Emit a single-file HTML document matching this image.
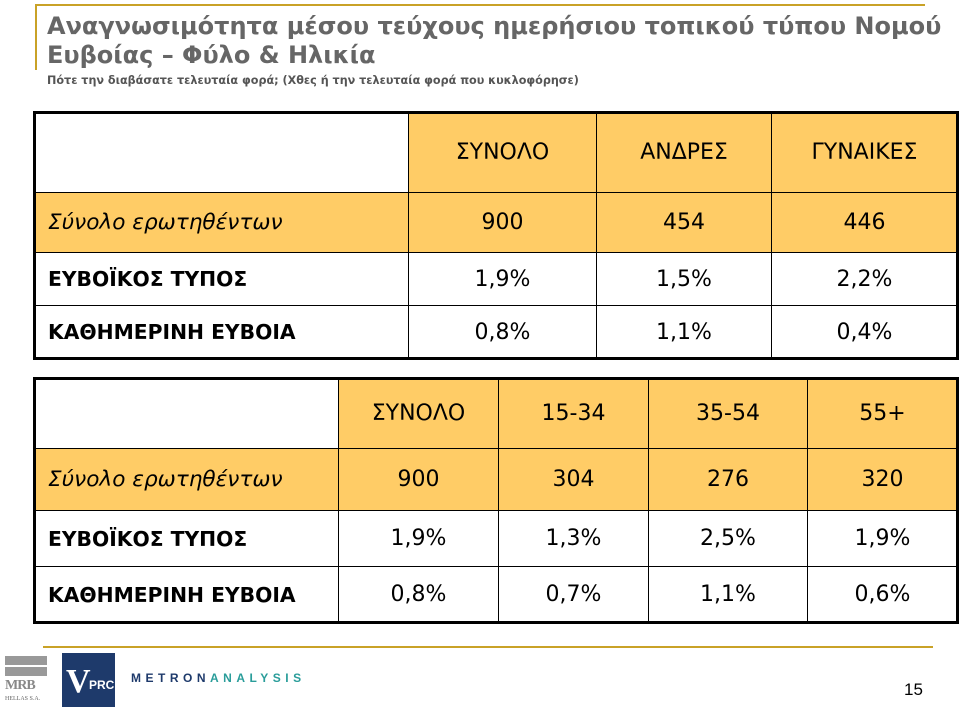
<!DOCTYPE html>
<html><head><meta charset="utf-8"><style>
body{margin:0;width:960px;height:707px;background:#fff;position:relative;overflow:hidden;font-family:"DejaVu Sans","Liberation Sans",sans-serif}
.a{position:absolute}
.title{left:47px;top:12px;color:#666;font-weight:bold;font-size:24px;line-height:29px;white-space:nowrap}
.sub{left:47px;top:74px;color:#555;font-weight:bold;font-size:11.2px;white-space:nowrap}
.c{position:absolute;box-sizing:border-box;border:1px solid #000;display:flex;align-items:center;justify-content:center;font-size:22px;color:#000;white-space:nowrap}
.g{background:#FFCC66}
.l{justify-content:flex-start;padding-left:13px}
.b{font-weight:bold;font-size:20.3px}
.i{font-style:italic;font-size:21.6px}
.frame{position:absolute;border:3px solid #000;box-sizing:border-box;pointer-events:none}
</style></head><body>
<div class="a" style="left:35px;top:4px;width:890px;height:2px;background:#C9A227"></div>
<div class="a" style="left:35px;top:4px;width:2px;height:66px;background:#C9A227"></div>
<div class="a title">Αναγνωσιμότητα μέσου τεύχους ημερήσιου τοπικού τύπου Νομού<br>Ευβοίας – Φύλο &amp; Ηλικία</div>
<div class="a sub">Πότε την διαβάσατε τελευταία φορά; (Χθες ή την τελευταία φορά που κυκλοφόρησε)</div>
<div id="t1"></div>
<div id="t2"></div>
<div class="a" style="left:43px;top:646px;width:890px;height:2px;background:#C9A227"></div>
<div class="a" style="left:5px;top:656px;width:42px;height:50px">
<div class="a" style="left:0;top:0;width:42px;height:9px;background:#999"></div>
<div class="a" style="left:0;top:11px;width:42px;height:9px;background:#999"></div>
<div class="a" style="left:0;top:22px;font:bold 14px 'Liberation Serif',serif;color:#888;letter-spacing:-1px">MRB</div>
<div class="a" style="left:0;top:40px;font:6px 'Liberation Serif',serif;color:#666">HELLAS S.A.</div></div>
<div class="a" style="left:62px;top:653px;width:53px;height:54px;background:#1E3A6B;color:#fff">
<span class="a" style="left:4px;top:10px;font:bold 34px 'Liberation Serif',serif">V</span><span class="a" style="left:27px;top:25px;font:bold 12px 'Liberation Sans',sans-serif">PRC</span></div>
<div class="a" style="left:131px;top:671px;font:bold 12px 'Liberation Sans',sans-serif;letter-spacing:4.5px;color:#1E3A6B">METRON<span style="color:#2A9D9A">ANALYSIS</span></div>
<div class="a" style="left:904px;top:680px;font:17px 'Liberation Sans',sans-serif">15</div>
<script>
const t1Cols=["","ΣΥΝΟΛΟ","ΑΝΔΡΕΣ","ΓΥΝΑΙΚΕΣ"];
const t1Base=["Σύνολο ερωτηθέντων","900","454","446"];
const t1Evv=["ΕΥΒΟΪΚΟΣ ΤΥΠΟΣ","1,9%","1,5%","2,2%"];
const t1Kath=["ΚΑΘΗΜΕΡΙΝΗ ΕΥΒΟΙΑ","0,8%","1,1%","0,4%"];
const t2Cols=["","ΣΥΝΟΛΟ","15-34","35-54","55+"];
const t2Base=["Σύνολο ερωτηθέντων","900","304","276","320"];
const t2Evv=["ΕΥΒΟΪΚΟΣ ΤΥΠΟΣ","1,9%","1,3%","2,5%","1,9%"];
const t2Kath=["ΚΑΘΗΜΕΡΙΝΗ ΕΥΒΟΙΑ","0,8%","0,7%","1,1%","0,6%"];
function build(host,xs,ys,rows,names){
  rows.forEach((r,ri)=>{
    r.forEach((txt,ci)=>{
      const d=document.createElement('div');
      
      
      let cls='c';
      if(ri<2 && !(ri===0&&ci===0)) cls+=' g';
      if(ci===0){cls+=' l'; if(ri===1) cls+=' i'; else if(ri>1) cls+=' b';}
      d.className=cls;
      d.style.left=xs[ci]+'px';d.style.top=ys[ri]+'px';
      d.style.width=(xs[ci+1]-xs[ci]+1)+'px';d.style.height=(ys[ri+1]-ys[ri]+1)+'px';
      d.textContent=txt;
      host.appendChild(d);
    });
  });
  const f=document.createElement('div');
  f.className='frame';
  
  
  f.style.left=(xs[0]-1)+'px';f.style.top=(ys[0]-1)+'px';
  f.style.width=(xs[xs.length-1]-xs[0]+3)+'px';f.style.height=(ys[ys.length-1]-ys[0]+3)+'px';
  host.appendChild(f);
}
build(document.getElementById('t1'),[34,408,596,771,957],[112,192,252,305,358],[t1Cols,t1Base,t1Evv,t1Kath],['header','base','evvoikos','kathimerini']);
build(document.getElementById('t2'),[34,338,498,648,807,957],[378,448,510,566,622],[t2Cols,t2Base,t2Evv,t2Kath],['header','base','evvoikos','kathimerini']);
</script>
</body></html>
